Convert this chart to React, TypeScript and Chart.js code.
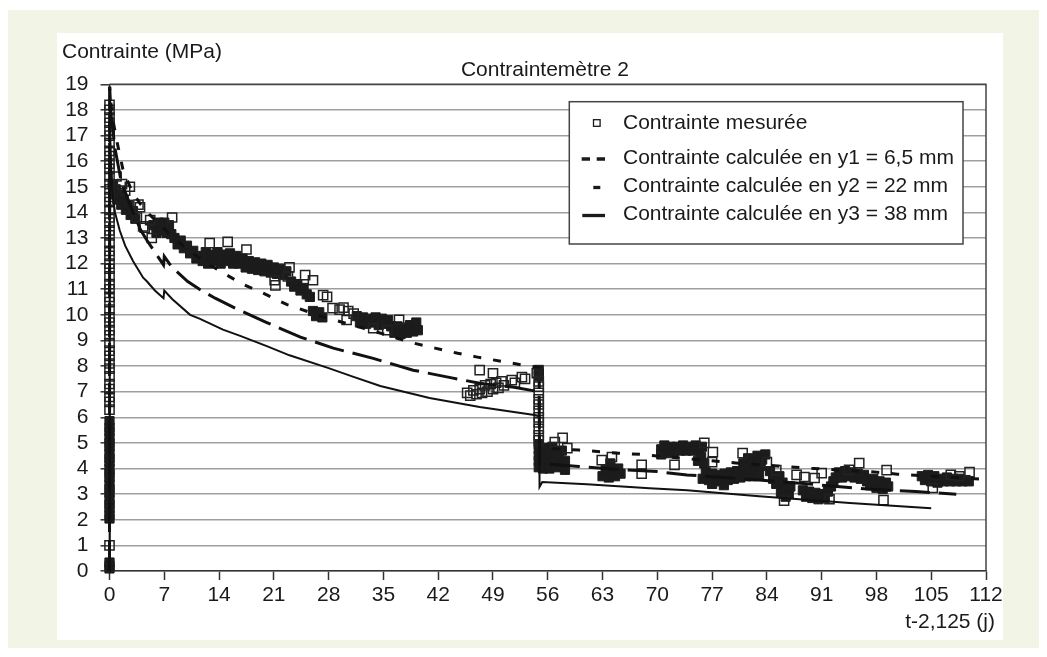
import React, { useEffect, useRef } from "react";
import { Chart, registerables } from "chart.js";

Chart.register(...registerables);

// ---------- DATA ----------
const chartTitle = "Contraintemètre 2";
const yAxisTitle = "Contrainte (MPa)";
const xAxisTitle = "t-2,125 (j)";
const seriesNames = [
  "Contrainte mesurée",
  "Contrainte calculée en y1 = 6,5 mm",
  "Contrainte calculée en y2 = 22 mm",
  "Contrainte calculée en y3 = 38 mm",
];
const xMin = 0;
const xMax = 112;
const xStep = 7;
const yMin = 0;
const yMax = 19;
const yStep = 1;

// measured values at t = 0 (loading) and t = 54.85 (unloading)
const startTime = 0;
const startColumnOpen = [1.0, 6.3, 6.6, 6.8, 7.1, 7.3, 7.6, 7.9, 8.1, 8.4, 8.6, 8.9, 9.2, 9.4, 9.7, 9.9, 10.2, 10.5, 10.7, 11.0, 11.2, 11.5, 11.8, 12.0, 12.3, 12.5, 12.8, 13.1, 13.3, 13.6, 13.8, 14.1, 14.4, 14.6, 14.9, 15.1, 15.4, 15.7, 15.9, 16.2, 16.4, 16.7, 17.0, 17.2, 17.5, 17.7, 18.0, 18.2];
const startColumnFilled = [0.1, 0.22, 0.33, 2.05, 2.2, 2.45, 2.6, 2.8, 3.05, 3.2, 3.4, 3.65, 3.8, 4.0, 4.25, 4.4, 4.6, 4.85, 5.0, 5.2, 5.45, 5.6, 5.85];
const unloadTime = 54.85;
const unloadColumnOpen = [5.1, 5.3, 5.55, 5.8, 6.0, 6.25, 6.5, 6.7, 6.95, 7.2, 7.4];
const unloadColumnFilled = [7.6, 7.72, 7.85, 4.05, 4.3, 4.5, 4.75, 4.95];

// measured values, isolated readings [t, MPa]
const measuredOpen = [
  [0.9, 15.4], [1.6, 15.1], [2.0, 14.85], [2.6, 15.0], [3.5, 13.8], [3.7, 14.3], [3.9, 14.2], [4.3, 13.45], [4.5, 13.4], [5.2, 13.7], [5.4, 13.0], [8.0, 13.8],
  [12.8, 12.8], [15.1, 12.85], [17.5, 12.55], [21.1, 11.35], [21.2, 11.15], [22.8, 11.5], [23.0, 11.85], [25.0, 11.55], [26.0, 11.35], [27.3, 10.77], [27.8, 10.7],
  [28.5, 10.26], [29.4, 10.2], [29.9, 10.28], [30.5, 10.15], [30.3, 9.8], [31.2, 10.05], [33.7, 9.48], [35.5, 9.4], [37.0, 9.8],
  [45.7, 6.95], [46.1, 6.85], [46.5, 7.05], [46.9, 6.9], [47.3, 7.84], [47.3, 7.1], [47.6, 6.95], [48.0, 7.25], [48.3, 7.0], [48.7, 7.3], [49.0, 7.72], [49.0, 7.1],
  [49.4, 7.35], [49.7, 7.15], [50.1, 7.4], [50.4, 7.25], [51.4, 7.45], [51.8, 7.35], [52.7, 7.57], [53.1, 7.5], [54.6, 7.72],
  [56.9, 5.03], [57.9, 5.2], [58.5, 4.8], [62.9, 4.33], [64.2, 4.45], [68.0, 4.14], [68.0, 3.8], [72.2, 4.14], [76.0, 5.0], [77.1, 4.64], [77.0, 4.25], [80.9, 4.6],
  [84.0, 4.25], [85.2, 3.94], [87.8, 3.75], [88.8, 3.67], [90.1, 3.63], [91.0, 3.82], [95.8, 4.21], [99.3, 3.94], [98.9, 2.77], [109.9, 3.86], [105.2, 3.24],
  [86.2, 2.75], [92.0, 2.8], [94.5, 3.95], [107.5, 3.75], [108.6, 3.7],
];

// measured values, dense series of readings [t, MPa]
const measuredDense = [
  [0.4, 15.1], [0.5, 14.7], [0.8, 14.9], [1.0, 14.5], [1.3, 14.7], [1.5, 14.3], [1.8, 14.5], [2.1, 14.1], [2.4, 14.3], [2.7, 13.9], [3.0, 14.05], [3.3, 13.75],
  [5.6, 13.5], [6.0, 13.2], [6.3, 13.6], [6.7, 13.3], [7.0, 13.6], [7.3, 13.2], [7.6, 13.5], [7.9, 13.15], [8.3, 13.0], [8.7, 12.75], [9.1, 12.9], [9.5, 12.6],
  [9.9, 12.7], [10.3, 12.4], [10.7, 12.5], [11.1, 12.2], [11.5, 12.3],
  [11.9, 12.1], [12.3, 12.45], [12.6, 12.0], [13.0, 12.35], [13.4, 12.1], [13.8, 12.45], [14.2, 12.0], [14.6, 12.35], [15.0, 12.1], [15.4, 12.4], [15.8, 12.0],
  [16.2, 12.3], [16.6, 12.0], [17.0, 12.2], [17.4, 11.85], [17.8, 12.1], [18.2, 11.8], [18.6, 12.05], [19.0, 11.75], [19.4, 12.0], [19.8, 11.7], [20.2, 11.95],
  [20.6, 11.65], [21.0, 11.85], [21.4, 11.6], [21.8, 11.8], [22.2, 11.55], [22.6, 11.7],
  [23.2, 11.3], [23.6, 11.1], [24.0, 11.2], [24.4, 10.95], [24.8, 11.05], [25.2, 10.8], [25.6, 10.7], [26.0, 10.15], [26.4, 9.95], [26.8, 10.1], [27.2, 9.9],
  [31.6, 9.95], [32.0, 9.7], [32.4, 9.9], [32.8, 9.65], [33.2, 9.85], [33.6, 9.7], [34.0, 9.9], [34.4, 9.6], [34.8, 9.85], [35.2, 9.65], [35.6, 9.8], [36.0, 9.55],
  [36.4, 9.3], [36.8, 9.55], [37.2, 9.25], [37.6, 9.5], [38.0, 9.3], [38.4, 9.6], [38.8, 9.35], [39.2, 9.7], [39.4, 9.4],
  [55.4, 4.0], [55.4, 4.5], [55.8, 4.25], [55.8, 4.8], [56.2, 4.0], [56.2, 4.55], [56.6, 4.3], [56.6, 4.85], [57.0, 4.05], [57.0, 4.6], [57.4, 4.35], [57.8, 4.1],
  [57.8, 4.7], [58.2, 4.3], [58.2, 3.95],
  [63.0, 3.7], [63.4, 3.95], [63.8, 3.65], [64.2, 3.9], [64.6, 3.7], [65.0, 4.0], [65.3, 3.8], [64.0, 4.2],
  [70.5, 4.75], [70.9, 4.9], [71.3, 4.7], [71.7, 4.85], [72.1, 4.65], [72.5, 4.85], [72.9, 4.7], [73.3, 4.9], [73.7, 4.7], [74.1, 4.85], [74.5, 4.7], [74.9, 4.9],
  [75.3, 4.7], [75.7, 4.85], [70.5, 4.55], [71.5, 4.6], [75.2, 4.3], [75.6, 4.45], [76.0, 4.2],
  [75.8, 3.6], [76.2, 3.85], [76.6, 3.55], [77.0, 3.8], [77.4, 3.5], [77.8, 3.75], [78.2, 3.55], [78.6, 3.8], [79.0, 3.55], [79.4, 3.85], [79.8, 3.6], [80.2, 3.9],
  [80.6, 3.65], [81.0, 3.9], [81.4, 3.7], [81.8, 3.95], [82.2, 3.7], [82.6, 3.95], [83.0, 3.75], [77.0, 3.4], [78.5, 3.35], [81.0, 4.2], [81.6, 4.4], [82.2, 4.25],
  [82.8, 4.5], [83.4, 4.35], [83.8, 4.55], [83.2, 4.1],
  [84.4, 3.9], [84.8, 3.6], [85.2, 3.4], [85.6, 3.7], [86.0, 3.45], [86.4, 3.2], [86.8, 3.0], [86.4, 2.9], [87.0, 3.3], [85.8, 3.05], [88.6, 3.15], [89.0, 2.9],
  [89.4, 3.1], [89.8, 2.85], [90.2, 3.05], [90.6, 2.8], [91.0, 3.0], [91.4, 2.85], [91.8, 3.1], [92.2, 3.3], [92.5, 3.5], [92.8, 3.65], [93.2, 3.85], [93.6, 3.65],
  [94.0, 3.9], [94.4, 3.7], [94.8, 3.85], [95.2, 3.65], [95.6, 3.8], [96.0, 3.6], [96.4, 3.75], [96.8, 3.5], [97.2, 3.35], [97.6, 3.6], [98.0, 3.25], [98.4, 3.5],
  [98.8, 3.2], [99.2, 3.45], [99.5, 3.3],
  [103.8, 3.7], [104.2, 3.55], [104.6, 3.75], [105.0, 3.5], [105.4, 3.7], [105.8, 3.45], [106.2, 3.6], [106.6, 3.5], [107.0, 3.65], [107.4, 3.5], [107.8, 3.6],
  [108.2, 3.5], [108.6, 3.6], [109.0, 3.5], [109.4, 3.55], [109.8, 3.5],
];

// calculated stresses [t, MPa]
const calcY1 = [
  [0, 0], [0.02, 18.9], [0.2, 18.2], [0.5, 17.5], [1, 16.7], [1.7, 15.7], [2.2, 15.3], [3, 14.75], [4, 14.3], [5, 13.95], [6, 13.65], [7, 13.35], [8, 13.05],
  [10, 12.55], [12, 12.1], [15, 11.55], [17, 11.2], [19.6, 10.85], [22.7, 10.4], [27, 9.95], [32.4, 9.48], [35, 9.25], [38.4, 8.93], [41.6, 8.7], [44.5, 8.5],
  [47, 8.35], [50, 8.19], [52.8, 8.04], [54.9, 7.95], [54.95, 4.8], [57, 4.77], [60, 4.72], [65, 4.6], [68, 4.55], [75, 4.35], [80, 4.22], [87, 4.06], [90, 4.0],
  [98, 3.86], [100.7, 3.78], [111.2, 3.59],
];
const calcY2 = [
  [0, 0], [0.02, 18.9], [0.2, 17.8], [0.4, 17.3], [0.7, 16.5], [1.5, 15.2], [3, 14.0], [4, 13.3], [4.8, 12.9], [6.9, 11.95], [7.0, 12.28], [8, 11.85], [10, 11.3],
  [11.5, 11.0], [13.5, 10.65], [15.8, 10.3], [20.1, 9.7], [24.4, 9.13], [28.6, 8.7], [33.7, 8.3], [38.8, 7.84], [43.9, 7.53], [47.3, 7.33], [51.5, 7.18], [54.9, 7.0],
  [54.95, 4.2], [60, 4.08], [65, 3.96], [70, 3.88], [73.8, 3.75], [83, 3.55], [90, 3.38], [96.8, 3.2], [103, 3.1], [108.2, 3.0],
];
const calcY3 = [
  [0, 0], [0.02, 18.9], [0.1, 16.8], [0.3, 15.1], [0.45, 14.6], [0.7, 14.0], [1.3, 13.3], [2, 12.7], [3, 12.1], [4.3, 11.45], [4.8, 11.3], [5.8, 10.95],
  [6.9, 10.65], [7.0, 10.95], [8, 10.62], [10.3, 10.0], [11.5, 9.85], [14.5, 9.42], [16.7, 9.18], [20.1, 8.78], [23, 8.42], [28, 7.92], [31, 7.6], [34.6, 7.22],
  [40.9, 6.75], [47.3, 6.4], [54.3, 6.09], [54.9, 6.04], [54.95, 3.28], [55.3, 3.47], [61, 3.39], [69, 3.23], [73.8, 3.15], [83, 2.92], [94.6, 2.65], [105, 2.45],
];

// ---------- STYLE ----------
const FONT = '"Liberation Sans", Arial, Helvetica, sans-serif';
const CREAM = "#f2f5e6";
const INK = "#1a1a1a";

const toXY = (pairs: number[][]) => pairs.map(([x, y]) => ({ x, y }));
const column = (t: number, ys: number[]) => ys.map((y) => ({ x: t, y }));

const decorPlugin = {
  id: "decor",
  beforeDraw(chart: any) {
    const { ctx } = chart;
    ctx.save();
    ctx.fillStyle = "#ffffff";
    ctx.fillRect(49, 23, 946, 607);
    ctx.restore();
  },
  afterDatasetsDraw(chart: any) {
    const { ctx, chartArea } = chart;
    const { left, right, top, bottom } = chartArea;
    ctx.save();
    ctx.strokeStyle = "#444";
    ctx.lineWidth = 1.5;
    ctx.beginPath();
    ctx.moveTo(left, top);
    ctx.lineTo(right, top);
    ctx.lineTo(right, bottom);
    ctx.stroke();

    const bx = 561.3, by = 91.7, bw = 393.7, bh = 142.3;
    ctx.fillStyle = "#ffffff";
    ctx.fillRect(bx, by, bw, bh);
    ctx.strokeStyle = "#444";
    ctx.lineWidth = 1.5;
    ctx.strokeRect(bx, by, bw, bh);

    const rows = [113, 148, 176.5, 204.5];
    ctx.strokeStyle = INK;
    ctx.lineWidth = 1.3;
    ctx.strokeRect(585.5, rows[0] - 3.3, 6.6, 6.6);
    ctx.lineWidth = 3.3;
    ctx.beginPath();
    ctx.moveTo(573.7, rows[1] + 1); ctx.lineTo(582, rows[1] + 1);
    ctx.moveTo(588.7, rows[1] + 1); ctx.lineTo(597, rows[1] + 1);
    ctx.stroke();
    ctx.beginPath();
    ctx.moveTo(585.3, rows[2] + 1); ctx.lineTo(592.3, rows[2] + 1);
    ctx.stroke();
    ctx.beginPath();
    ctx.moveTo(574.3, rows[3] + 1); ctx.lineTo(597, rows[3] + 1);
    ctx.stroke();

    ctx.fillStyle = INK;
    ctx.font = `21px ${FONT}`;
    ctx.textAlign = "left";
    ctx.textBaseline = "middle";
    seriesNames.forEach((name, i) => ctx.fillText(name, 615, rows[i]));
    ctx.restore();
  },
  afterDraw(chart: any) {
    const { ctx } = chart;
    ctx.save();
    ctx.fillStyle = INK;
    ctx.font = `21px ${FONT}`;
    ctx.textBaseline = "middle";
    ctx.textAlign = "left";
    ctx.fillText(yAxisTitle, 54, 42);
    ctx.textAlign = "center";
    ctx.fillText(chartTitle, 537, 60);
    ctx.textAlign = "right";
    ctx.fillText(xAxisTitle, 987, 612);
    ctx.restore();
  },
};

export default function App() {
  const ref = useRef<HTMLCanvasElement>(null);

  useEffect(() => {
    if (!ref.current) return;
    const tickFont = { family: FONT, size: 21 };
    const chart = new Chart(ref.current, {
      type: "scatter",
      data: {
        datasets: [
          {
            label: seriesNames[0],
            data: [
              ...column(startTime, startColumnOpen),
              ...column(unloadTime, unloadColumnOpen),
              ...toXY(measuredOpen),
            ],
            showLine: false,
            pointStyle: "rect",
            pointRadius: 6.5,
            pointBorderWidth: 1.5,
            pointBorderColor: "#222",
            pointBackgroundColor: "rgba(255,255,255,0)",
            order: 3,
            clip: false,
          },
          {
            label: seriesNames[0] + " (dense)",
            data: [
              ...column(startTime, startColumnFilled),
              ...column(unloadTime, unloadColumnFilled),
              ...toXY(measuredDense),
            ],
            showLine: false,
            pointStyle: "rect",
            pointRadius: 6.5,
            pointBorderWidth: 1,
            pointBorderColor: "#1c1c1c",
            pointBackgroundColor: "#1c1c1c",
            order: 3,
            clip: false,
          },
          {
            label: seriesNames[1],
            data: toXY(calcY1),
            showLine: true,
            pointRadius: 0,
            borderColor: "#111",
            borderWidth: 3,
            borderDash: [8, 12],
            order: 1,
            clip: false,
          },
          {
            label: seriesNames[2],
            data: toXY(calcY2),
            showLine: true,
            pointRadius: 0,
            borderColor: "#111",
            borderWidth: 3,
            borderDash: [30, 9],
            order: 1,
            clip: false,
          },
          {
            label: seriesNames[3],
            data: toXY(calcY3),
            showLine: true,
            pointRadius: 0,
            borderColor: "#111",
            borderWidth: 2,
            order: 1,
            clip: false,
          },
        ],
      },
      options: {
        responsive: false,
        animation: false,
        devicePixelRatio: 1,
        events: [],
        layout: { padding: { left: 0, top: 74.3, right: 53, bottom: 39 } },
        plugins: {
          legend: { display: false },
          title: { display: false },
          tooltip: { enabled: false },
        },
        scales: {
          x: {
            type: "linear",
            min: xMin,
            max: xMax,
            ticks: { stepSize: xStep, font: tickFont, color: INK, padding: 3, maxRotation: 0, autoSkip: false },
            grid: { drawOnChartArea: false, drawTicks: true, tickLength: 9, tickColor: "#333", tickWidth: 1.5 },
            border: { display: true, color: "#333", width: 1.5 },
            afterFit: (s: any) => { s.height = 40; },
          },
          y: {
            type: "linear",
            min: yMin,
            max: yMax,
            ticks: { stepSize: yStep, font: tickFont, color: INK, padding: 12, autoSkip: false },
            grid: { color: "#9f9f9f", lineWidth: 1.6, drawTicks: true, tickLength: 9, tickColor: "#333", tickWidth: 1.5 },
            border: { display: true, color: "#333", width: 1.5 },
            afterFit: (s: any) => { s.width = 101.5; },
          },
        },
      },
      plugins: [decorPlugin],
    } as any);
    return () => chart.destroy();
  }, []);

  return (
    <div style={{ position: "relative", top: 2, width: 1031, height: 640, background: CREAM }}>
      <canvas ref={ref} width={1031} height={640} style={{ display: "block", width: 1031, height: 640 }} />
    </div>
  );
}
